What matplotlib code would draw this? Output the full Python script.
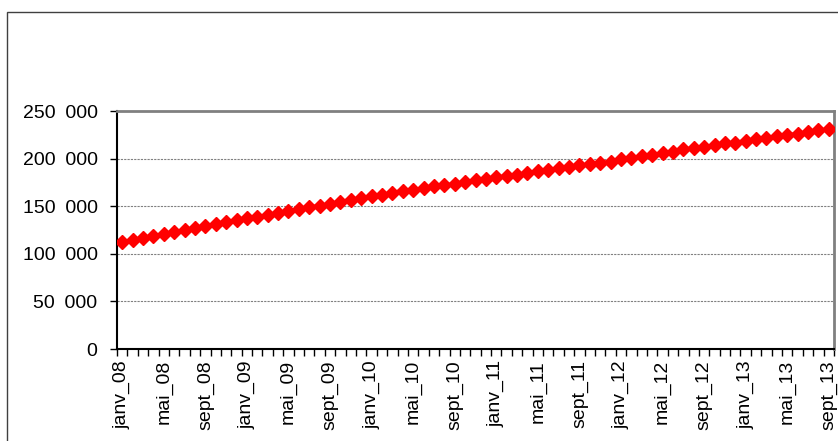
import numpy as np
import matplotlib.pyplot as plt
from matplotlib.patches import Rectangle

plt.rcParams['font.family'] = ['Liberation Sans', 'DejaVu Sans']

# monthly series janv_08 .. sept_13 (69 months)
mois = ['janv', 'févr', 'mars', 'avr', 'mai', 'juin', 'juil', 'août', 'sept', 'oct', 'nov', 'déc']
periodes = [f"{m}_{a:02d}" for a in range(8, 14) for m in mois][:69]

valeurs = [112300, 114700, 116800, 118900, 120700, 122800, 125500, 127300, 128700, 131400,
           133200, 135300, 137400, 138800, 141200, 142700, 145100, 147200, 149000, 150600,
           152400, 154800, 157000, 158200, 160400, 161800, 164300, 166400, 167100, 169200,
           170900, 172000, 173700, 175800, 177200, 178600, 180400, 181800, 183200, 185300,
           186700, 187700, 189800, 191200, 193000, 194200, 195500, 196900, 199300, 201000,
           202400, 204200, 205900, 207300, 209800, 211200, 212200, 214000, 216100, 216800,
           218900, 220600, 222000, 223400, 225200, 225900, 228300, 229700, 231100]

y_ticks = [0, 50000, 100000, 150000, 200000, 250000]

fig = plt.figure(figsize=(8.38, 4.41), dpi=100)
fig.patch.set_facecolor('white')

# outer chart border (runs off the picture to the right and bottom)
fig.patches.append(Rectangle((7/838, -0.1), 1.1, 1 - 12/441 + 0.1, transform=fig.transFigure,
                             fill=False, edgecolor='#404040', linewidth=1))

ax = fig.add_axes([117/838, 1 - 349/441, 717/838, 238/441])

x = np.arange(len(valeurs))
ax.plot(x, valeurs, color='#ff0000', linewidth=2.5, marker='D', markersize=7,
        markeredgecolor='#ff0000', markerfacecolor='#ff0000', zorder=3)

ax.set_xlim(-0.5, len(valeurs) - 0.5)
ax.set_ylim(0, 250000)

ax.set_yticks(y_ticks)
ax.set_yticklabels([f"{v:,}".replace(',', '\u2002') for v in y_ticks], fontsize=14)
ax.yaxis.grid(True, color='#808080', linestyle=(0, (2, 1)), linewidth=0.8)
ax.set_axisbelow(True)

# tick marks between categories, labels every 4 months
ax.set_xticks(np.arange(-0.5, len(valeurs), 1))
ax.set_xticklabels([])
lab_pos = x[::4]
ax.set_xticks(lab_pos, minor=True)
ax.set_xticklabels([periodes[i] for i in lab_pos], minor=True, rotation=90, fontsize=14,
                   ha='center', va='top')
ax.tick_params(axis='x', which='major', direction='out', length=5, width=1, color='black')
ax.tick_params(axis='x', which='minor', length=0, pad=8)
ax.tick_params(axis='y', direction='out', length=5, width=1, color='black', pad=9)

for s in ['left', 'bottom']:
    ax.spines[s].set_color('black')
    ax.spines[s].set_linewidth(1.5)
for s in ['top', 'right']:
    ax.spines[s].set_color('#808080')
    ax.spines[s].set_linewidth(2)

fig.savefig('out.png', dpi=100)
